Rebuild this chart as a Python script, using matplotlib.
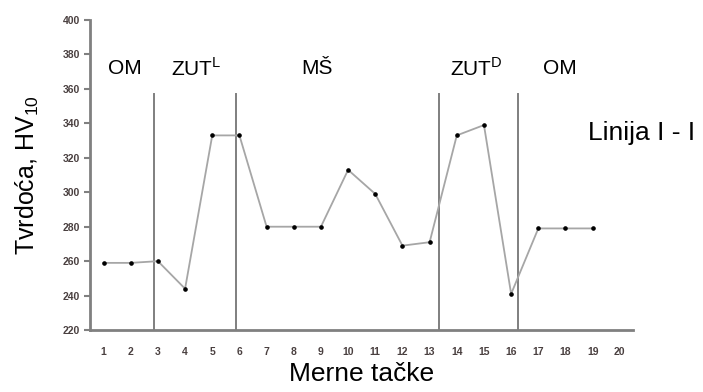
import matplotlib.pyplot as plt

# merne tacke i tvrdoca
tacke = list(range(1, 20))
tvrdoca = [259, 259, 260, 244, 333, 333, 280, 280, 280, 313, 299, 269, 271,
           333, 339, 241, 279, 279, 279]

# granice zona (pozicija po x osi)
granice = [2.86, 5.89, 13.34, 16.25]
zone = ["OM", "ZUT$^{\\mathregular{L}}$", "MŠ", "ZUT$^{\\mathregular{D}}$", "OM"]
zone_x = [1.78, 4.42, 8.84, 14.73, 17.79]

plt.rcParams['font.family'] = ['Liberation Sans', 'DejaVu Sans']

fig = plt.figure(figsize=(7.03, 3.92), dpi=100)
ax = fig.add_axes([0.128, 0.158, 0.773, 0.791])

ax.plot(tacke, tvrdoca, color="#a6a6a6", lw=1.3, marker="o", ms=2.3,
        mfc="black", mec="black", zorder=3)

for g in granice:
    ax.plot([g, g], [220, 357], color="#7f7f7f", lw=1.4)

for z, x in zip(zone, zone_x):
    ax.text(x, 372, z, ha="center", va="center", fontsize=15)

ax.set_xlim(0.5, 20.5)
ax.set_ylim(220, 400)
ax.set_xticks(range(1, 21))
ax.set_yticks(range(220, 401, 20))

for s in ["top", "right"]:
    ax.spines[s].set_visible(False)
for s in ["left", "bottom"]:
    ax.spines[s].set_color("#808080")
    ax.spines[s].set_linewidth(2)

ax.tick_params(axis="x", length=0, pad=12)
ax.tick_params(axis="y", length=4, width=1.5, color="#808080", pad=3)
for lab in ax.get_xticklabels() + ax.get_yticklabels():
    lab.set_fontsize(7.5)
    lab.set_fontweight("bold")
    lab.set_color("#4a4040")

ax.set_ylabel("Tvrdoća, HV$_{\\mathregular{10}}$", fontsize=18)
ax.yaxis.set_label_coords(-0.09, 0.5)
ax.set_xlabel("Merne tačke", fontsize=19, labelpad=4)

fig.text(0.836, 0.66, "Linija I - I", fontsize=19, va="center")

fig.savefig("out.png", dpi=100)
